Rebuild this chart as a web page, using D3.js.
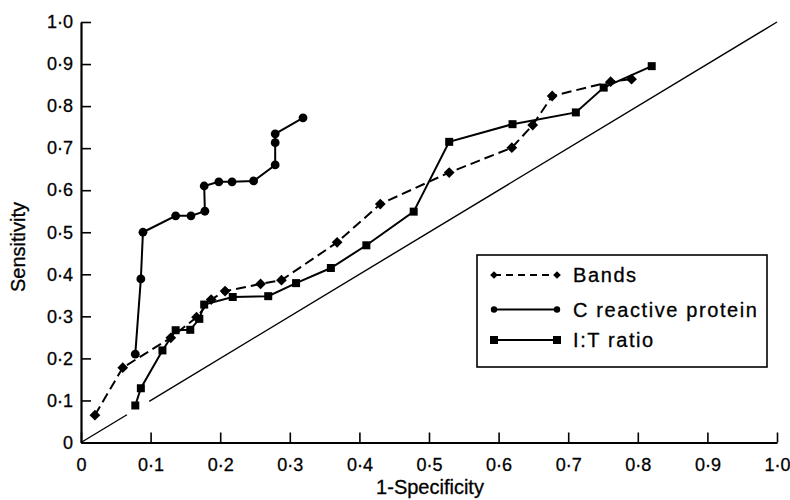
<!DOCTYPE html>
<html><head><meta charset="utf-8">
<script src="https://cdn.jsdelivr.net/npm/d3@7"></script>
<style>
html,body{margin:0;padding:0;background:#fff;}
svg{display:block;font-family:"Liberation Sans",Arial,Helvetica,sans-serif;}
</style></head>
<body><svg id="c" width="790" height="500"></svg>
<script>
// ---- data ----
const bandsX = [0.020,0.060,0.129,0.166,0.187,0.207,0.258,0.288,0.368,0.430,0.529,0.619,0.649,0.677,0.761,0.791];
const bandsY = [0.065,0.178,0.249,0.298,0.340,0.360,0.377,0.386,0.476,0.567,0.642,0.701,0.755,0.824,0.858,0.864];
const crpX = [0.078,0.086,0.089,0.136,0.158,0.178,0.177,0.198,0.217,0.248,0.279,0.279,0.279,0.319];
const crpY = [0.210,0.389,0.500,0.539,0.539,0.550,0.610,0.620,0.620,0.622,0.660,0.713,0.734,0.772];
const itX = [0.078,0.086,0.117,0.136,0.157,0.170,0.177,0.218,0.269,0.309,0.359,0.410,0.478,0.529,0.620,0.711,0.751,0.820];
const itY = [0.088,0.129,0.219,0.267,0.268,0.294,0.328,0.346,0.348,0.379,0.415,0.469,0.549,0.715,0.757,0.785,0.844,0.895];
const diagonalSegments = [[0,0.066],[0.098,1.0]];
const tickValues = [0,0.1,0.2,0.3,0.4,0.5,0.6,0.7,0.8,0.9,1.0];
const tickLabels = ["0","0·1","0·2","0·3","0·4","0·5","0·6","0·7","0·8","0·9","1·0"];
const legendLabels = ["Bands","C reactive protein","I:T ratio"];
const xTitle = "1-Specificity", yTitle = "Sensitivity";

// ---- scales ----
const x = d3.scaleLinear().domain([0,1]).range([81,777]);
const y = d3.scaleLinear().domain([0,1]).range([442.5,22]);
const svg = d3.select("#c");

// axes
const fmt = (d,i) => tickLabels[i];
const gx = svg.append("g").attr("transform","translate(0,442.5)")
  .call(d3.axisBottom(x).tickValues(tickValues).tickFormat(fmt).tickSizeInner(-10).tickSizeOuter(0).tickPadding(16));
const gy = svg.append("g").attr("transform","translate(81,0)")
  .call(d3.axisLeft(y).tickValues(tickValues).tickFormat(fmt).tickSizeInner(-10).tickSizeOuter(0).tickPadding(8));
[gx,gy].forEach(g=>{
  g.select(".domain").attr("stroke","#000").attr("stroke-width",2.2);
  g.selectAll(".tick line").attr("stroke","#000").attr("stroke-width",1.6);
  g.selectAll(".tick text").attr("fill","#000").style("font-size","18px")
    .style("font-family","'Liberation Sans',Arial,sans-serif").attr("stroke","#000").attr("stroke-width",0.3);
});

// titles
svg.append("text").attr("x",430).attr("y",494).attr("text-anchor","middle")
  .style("font-size","20px").attr("stroke","#000").attr("stroke-width",0.3).text(xTitle);
svg.append("text").attr("transform","translate(25,247) rotate(-90)").attr("text-anchor","middle")
  .style("font-size","20px").attr("stroke","#000").attr("stroke-width",0.3).text(yTitle);

// diagonal
diagonalSegments.forEach(s=>{
  svg.append("line").attr("x1",x(s[0])).attr("y1",y(s[0])).attr("x2",x(s[1])).attr("y2",y(s[1]))
    .attr("stroke","#000").attr("stroke-width",1.4);
});

const line = d3.line().x(d=>x(d[0])).y(d=>y(d[1]));
const zip = (a,b)=>a.map((v,i)=>[v,b[i]]);
const bands = zip(bandsX,bandsY), crp = zip(crpX,crpY), it = zip(itX,itY);

svg.append("path").datum(bands).attr("d",line).attr("fill","none").attr("stroke","#000")
  .attr("stroke-width",2).attr("stroke-dasharray","10,5");
svg.append("path").datum(crp).attr("d",line).attr("fill","none").attr("stroke","#000").attr("stroke-width",2);
svg.append("path").datum(it).attr("d",line).attr("fill","none").attr("stroke","#000").attr("stroke-width",2);

const diamond = d3.symbol(d3.symbolSquare, 58);
svg.selectAll(".dm").data(bands).join("path").attr("d",diamond)
  .attr("transform",d=>`translate(${x(d[0])},${y(d[1])}) rotate(45)`).attr("fill","#000");
svg.selectAll(".ci").data(crp).join("circle").attr("cx",d=>x(d[0])).attr("cy",d=>y(d[1])).attr("r",4.4).attr("fill","#000");
svg.selectAll(".sq").data(it).join("rect").attr("x",d=>x(d[0])-4).attr("y",d=>y(d[1])-4)
  .attr("width",8).attr("height",8).attr("fill","#000");

// legend
const lg = svg.append("g");
lg.append("rect").attr("x",477).attr("y",255).attr("width",290).attr("height",112)
  .attr("fill","#fff").attr("stroke","#000").attr("stroke-width",1.6);
const rows = [275,309.5,340];
const lx1 = 494, lx2 = 557;
legendLabels.forEach((t,i)=>{
  const ry = rows[i];
  lg.append("line").attr("x1",lx1).attr("x2",lx2).attr("y1",ry).attr("y2",ry).attr("stroke","#000")
    .attr("stroke-width",1.8).attr("stroke-dasharray", i===0 ? "7,5" : null);
  [lx1,lx2].forEach(px=>{
    if(i===0) lg.append("path").attr("d",d3.symbol(d3.symbolSquare,30)).attr("transform",`translate(${px},${ry}) rotate(45)`).attr("fill","#000");
    else if(i===1) lg.append("circle").attr("cx",px).attr("cy",ry).attr("r",3.2).attr("fill","#000");
    else lg.append("rect").attr("x",px-4).attr("y",ry-4).attr("width",8).attr("height",8).attr("fill","#000");
  });
  lg.append("text").attr("x",573).attr("y",ry+7).style("font-size","20px").style("letter-spacing","1.6px")
    .attr("stroke","#000").attr("stroke-width",0.3).text(t);
});
</script></body></html>
